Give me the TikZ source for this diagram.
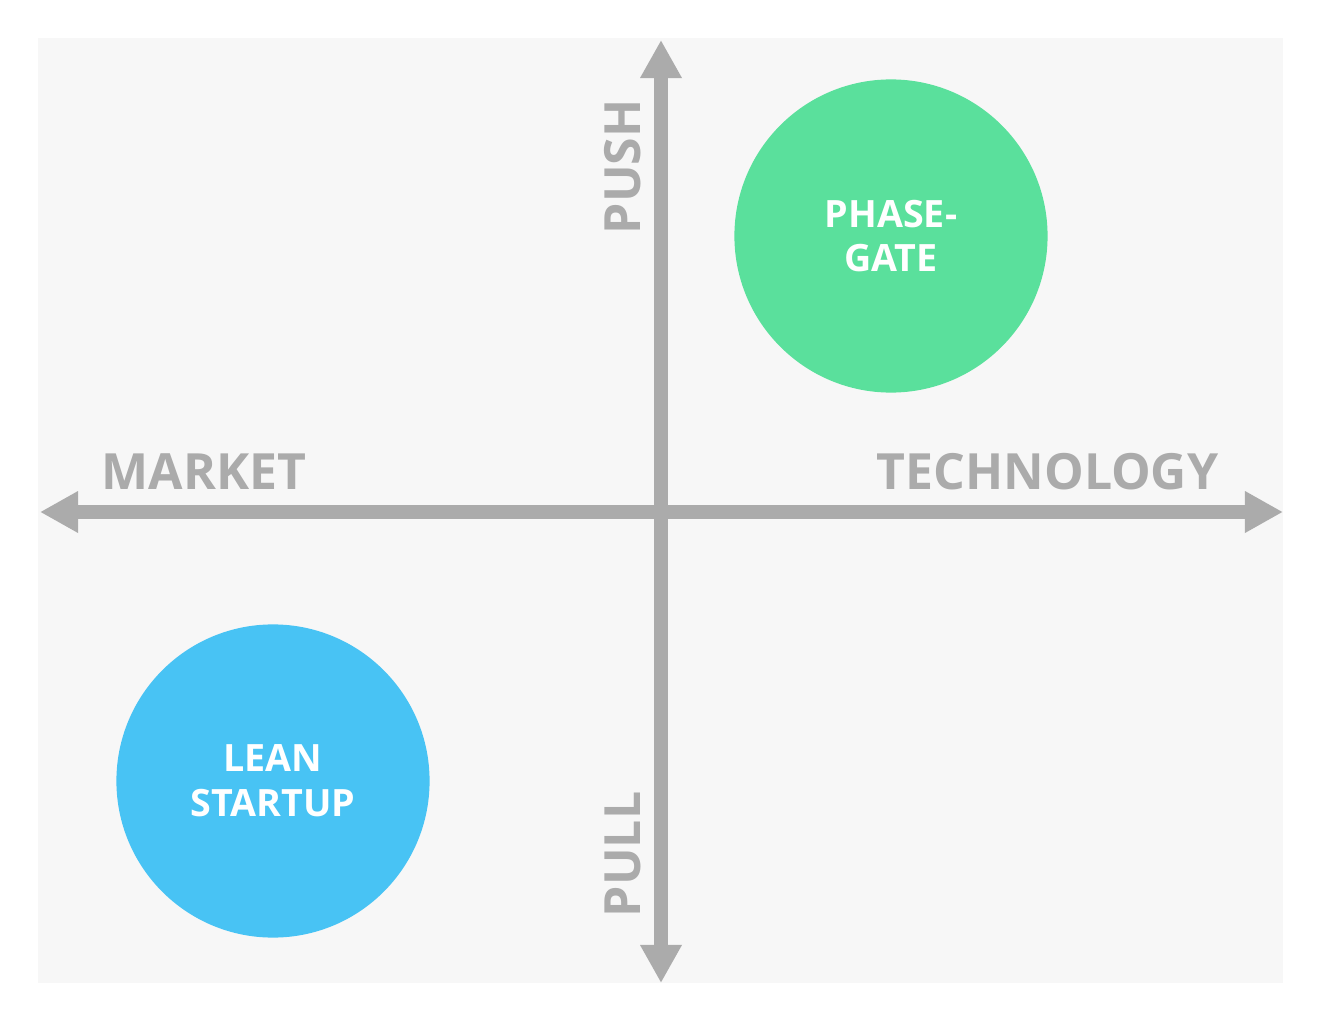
\documentclass[tikz,border=0pt]{standalone}
\usepackage{fontspec}
\setmainfont{Open Sans}
\usetikzlibrary{arrows.meta}

\definecolor{panelgray}{HTML}{F7F7F7}
\definecolor{axisgray}{HTML}{ABABAB}
\definecolor{phasegreen}{HTML}{5AE09C}
\definecolor{leanblue}{HTML}{48C3F4}

\tikzset{
  axis/.style={draw=axisgray, line width=0.13cm, {Triangle[length=0.38cm, width=0.39cm]}-{Triangle[length=0.38cm, width=0.39cm]}},
  axislabel/.style={text=axisgray, font=\fontsize{14.2pt}{17pt}\selectfont\bfseries, inner sep=0pt},
  bubble/.style={circle, minimum size=3.13cm, inner sep=0pt, text=white, align=center, font=\fontsize{10.7pt}{12.7pt}\selectfont\bfseries}
}

\begin{document}
\begin{tikzpicture}[x=0.01cm, y=-0.01cm]
% Set the page size and the panel
\useasboundingbox (0, 0) rectangle (1323, 1024);
\fill[panelgray] (38, 38) rectangle (1283, 983);

% Draw the two circles
\node[bubble, fill=phasegreen] (phase) at (891, 236) {PHASE-\\GATE};
\node[bubble, fill=leanblue] (lean) at (273, 781) {LEAN\\STARTUP};

% Draw the axes
\coordinate (west) at (40, 512);
\coordinate (east) at (1283, 512);
\coordinate (north) at (661, 40);
\coordinate (south) at (661, 983);
\draw[axis] (west) -- (east);
\draw[axis] (south) -- (north);

% Insert the labels
\node[axislabel, anchor=base west] (market) at (101, 489) {MARKET};
\node[axislabel, anchor=base east] (technology) at (1219, 489) {TECHNOLOGY};
\node[axislabel, anchor=base west, rotate=90] (push) at (640, 235) {PUSH};
\node[axislabel, anchor=base west, rotate=90] (pull) at (640, 918) {PULL};
\end{tikzpicture}
\end{document}
